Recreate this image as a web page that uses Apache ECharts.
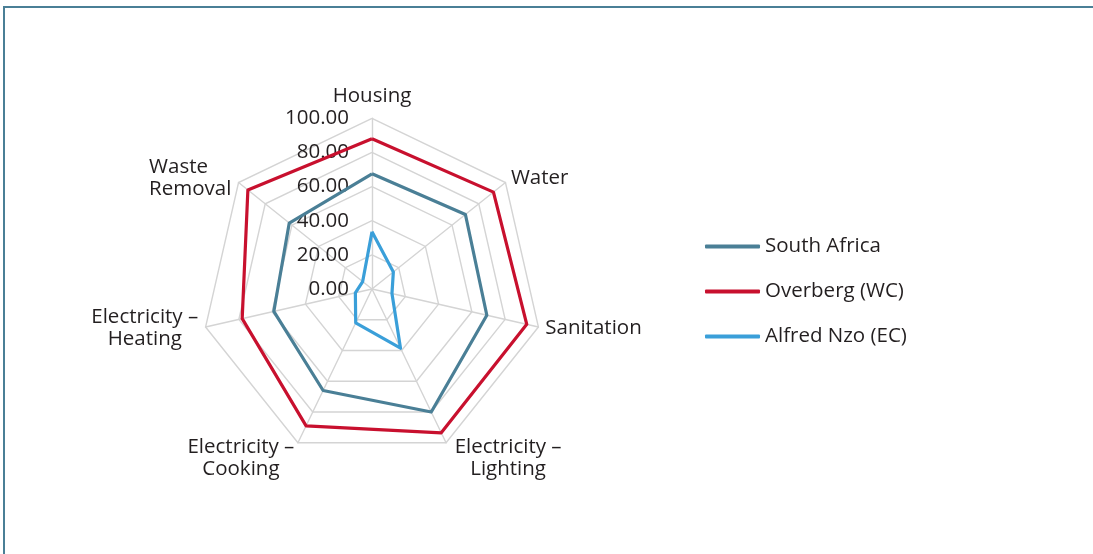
<!DOCTYPE html>
<html>
<head>
<meta charset="utf-8">
<script src="https://cdn.jsdelivr.net/npm/echarts@6/dist/echarts.min.js"></script>
<style>
  html, body { margin: 0; padding: 0; background: #fff; }
  #wrap { position: relative; width: 1093px; height: 554px; overflow: hidden; }
  #frame { position: absolute; left: 3px; top: 6px; width: 1200px; height: 700px;
           border-top: 2px solid #4a7f96; border-left: 2px solid #4a7f96; box-sizing: border-box; }
  #chart { position: absolute; left: 0; top: 0; width: 1093px; height: 554px; }
</style>
</head>
<body>
<div id="wrap">
  <div id="frame"></div>
  <div id="chart"></div>
</div>
<script>
// Indicators in the order ECharts lays them out (counter-clockwise from the top)
const categories = ['Housing', 'Waste\nRemoval', 'Electricity –\nHeating', 'Electricity –\nCooking',
                    'Electricity –\nLighting', 'Sanitation', 'Water'];
const seriesNames = ['South Africa', 'Overberg (WC)', 'Alfred Nzo (EC)'];
const southAfrica = [67.5, 62, 59, 66, 80, 69, 70];
const overberg    = [88, 93, 78, 89, 93.5, 93, 91];
const alfredNzo   = [33.5, 7, 10, 22, 38.5, 12, 16];
const radiusTicks = [0, 20, 40, 60, 80, 100];

const colors = ['#4a7f96', '#c8102e', '#3a9fd9'];
const FONT = '"Open Sans", "Noto Sans", sans-serif';
const FS = 20.5;

function nameFormatter(name) {
  const lines = name.split('\n');
  if (lines.length === 1) return name;
  const style = name.indexOf('Waste') === 0 ? 'w' : 'c';
  return lines.map(l => '{' + style + '|' + l + '}').join('\n');
}

const indicator = categories.map((c, i) => {
  const ind = { name: c, max: radiusTicks[radiusTicks.length - 1], min: radiusTicks[0] };
  if (i === 0) {
    ind.axisLabel = {
      show: true, margin: 23, fontSize: FS, color: '#231f20', fontFamily: FONT,
      formatter: v => Number(v).toFixed(2)
    };
    ind.nameGap = 12;
  }
  if (i === 1) ind.nameTextStyle = { padding: [0, 2, 0, 0] };
  if (i === 3) ind.nameTextStyle = { padding: [18, 0, 0, 0] };
  if (i === 4) ind.nameTextStyle = { padding: [18, 0, 0, 5] };
  return ind;
});

const chart = echarts.init(document.getElementById('chart'), null, { renderer: 'canvas' });
chart.setOption({
  animation: false,
  color: colors,
  legend: {
    orient: 'vertical',
    left: 700,
    top: 231,
    itemWidth: 55,
    itemHeight: 4,
    itemGap: 24,
    icon: 'roundRect',
    textStyle: { fontSize: FS, color: '#231f20', fontFamily: FONT, lineHeight: 20 },
    data: seriesNames
  },
  radar: {
    center: [372, 289],
    radius: 170.7,
    startAngle: 90,
    shape: 'polygon',
    splitNumber: radiusTicks.length - 1,
    nameGap: 7,
    axisName: {
      color: '#231f20', fontSize: FS, fontFamily: FONT,
      formatter: nameFormatter,
      rich: {
        c: { fontSize: FS, fontFamily: FONT, color: '#231f20', width: 108, align: 'center', lineHeight: 22 },
        w: { fontSize: FS, fontFamily: FONT, color: '#231f20', width: 82, align: 'left', lineHeight: 22 }
      }
    },
    splitLine: { lineStyle: { color: '#d4d4d4', width: 1.4 } },
    splitArea: { show: false },
    axisLine: { lineStyle: { color: '#d4d4d4', width: 1.4 } },
    axisTick: { show: false },
    axisLabel: { show: false },
    indicator: indicator
  },
  series: [{
    type: 'radar',
    symbol: 'none',
    lineStyle: { width: 3.2 },
    data: [
      { name: seriesNames[0], value: southAfrica, lineStyle: { color: colors[0], width: 3.2 }, itemStyle: { color: colors[0] } },
      { name: seriesNames[1], value: overberg, lineStyle: { color: colors[1], width: 3.2 }, itemStyle: { color: colors[1] } },
      { name: seriesNames[2], value: alfredNzo, lineStyle: { color: colors[2], width: 3.2 }, itemStyle: { color: colors[2] } }
    ]
  }]
});
</script>
</body>
</html>
